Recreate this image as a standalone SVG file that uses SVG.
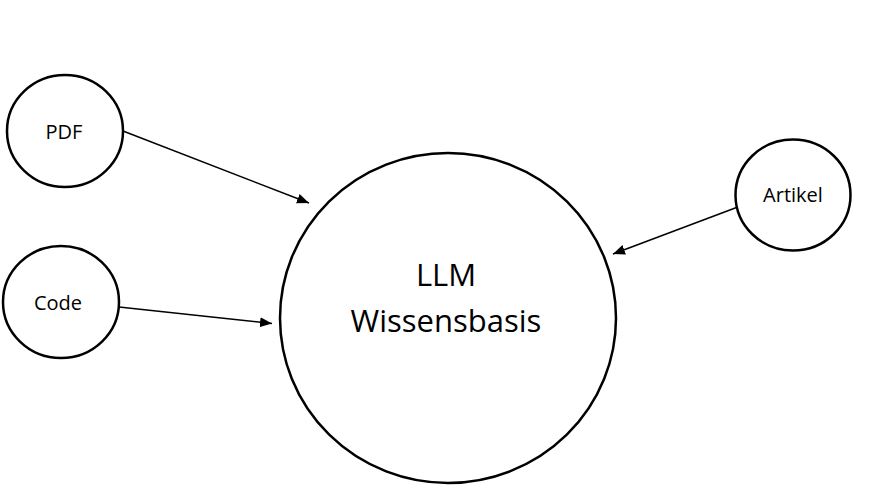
<svg xmlns="http://www.w3.org/2000/svg" width="873" height="499" viewBox="0 0 873 499">
<style>
.node{fill:#fff;stroke:#000;stroke-width:2.5}
.lbl{font-family:"Open Sans","Liberation Sans",sans-serif;fill:#000;text-anchor:middle}
.s{font-size:20px}
.b{font-size:31px}
.edge{stroke:#000;stroke-width:1.5;fill:none;marker-end:url(#ah)}
</style>
<defs>
<marker id="ah" viewBox="0 0 12 10" refX="12" refY="5" markerWidth="12" markerHeight="10" markerUnits="userSpaceOnUse" orient="auto">
<path d="M0,0 L12,5 L0,10 Z" fill="#000"/>
</marker>
</defs>
<rect width="873" height="499" fill="#fff"/>
<g id="connectors">
<line class="edge" x1="123" y1="131" x2="309" y2="203"/>
<line class="edge" x1="119" y1="307" x2="272" y2="323.5"/>
<line class="edge" x1="736.5" y1="207.5" x2="613" y2="254"/>
</g>
<g id="llm">
<ellipse class="node" cx="448" cy="318" rx="168" ry="165"/>
<text class="lbl b" x="446" y="286">LLM</text>
<text class="lbl b" x="446" y="332">Wissensbasis</text>
</g>
<g id="pdf">
<ellipse class="node" cx="65" cy="131" rx="58" ry="56"/>
<text class="lbl s" x="64" y="139">PDF</text>
</g>
<g id="code">
<ellipse class="node" cx="61" cy="302" rx="58" ry="56"/>
<text class="lbl s" x="58" y="310">Code</text>
</g>
<g id="artikel">
<ellipse class="node" cx="793" cy="195" rx="57.5" ry="55.5"/>
<text class="lbl s" x="793" y="202">Artikel</text>
</g>
</svg>
